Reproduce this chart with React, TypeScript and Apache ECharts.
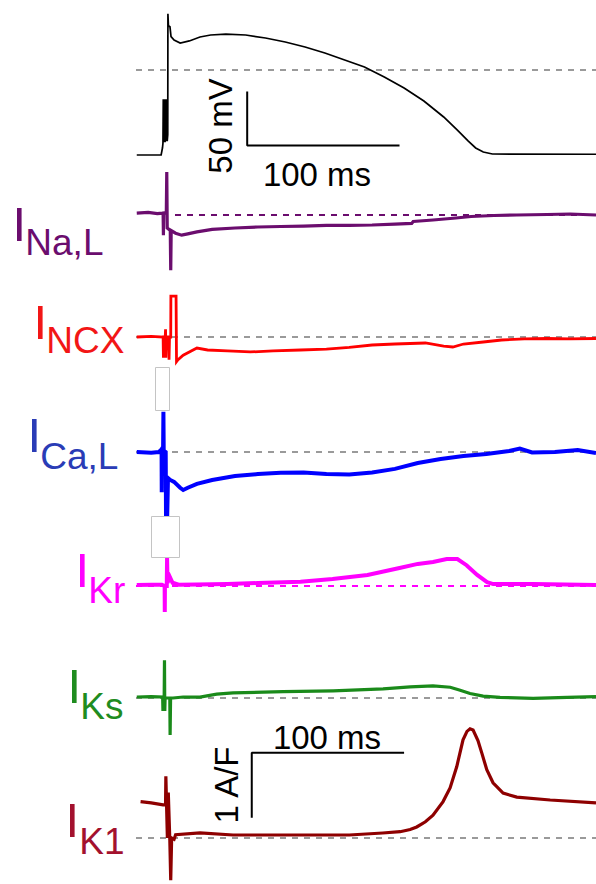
import React, { useEffect, useRef } from "react";
import * as echarts from "echarts";

// ---- time axis (ms, 0 = AP upstroke) ----
const T_MIN = -20;
const T_MAX = 282;

// ---- Action potential (mV) ----
const apTrace: [number, number][] = [
  [-19.5, -78.7], [-3.5, -78.7], [-2.6, -72], [-2.3, -67.6],
  [-2.1, -27], [-1.7, -67], [-1.3, -27], [-0.9, -67], [-0.5, -27], [-0.1, -66], [0.3, -27], [0.5, -66],
  [0.85, -60], [0.95, 52], [1.3, 41], [2.3, 40], [3.0, 31], [5, 27.8], [9, 25], [15, 26.9],
  [22, 30.6], [29, 32.4], [39, 33.3], [52, 32.4], [65, 29.6], [78, 25.9], [91, 21.3], [104, 15.7],
  [117, 9.3], [130, 2.8], [143, -6.5], [156, -16.7], [169, -28.7], [182, -43.5], [191, -55.6],
  [198, -65.7], [203, -72.2], [208, -75.9], [214, -77.8], [282, -78],
];

// ---- Currents (A/F) ----
const iNaLTrace: [number, number][] = [
  [-19.5, 0.03], [-12, 0.04], [-6, 0.02], [-2.2, 0.03], [-2.0, -0.31], [-1.8, 0.03], [-0.1, 0.03],
  [0.2, 0.66], [0.5, -0.2], [2.5, -0.24], [2.8, -0.85], [3.1, -0.24], [6, -0.28], [10, -0.31],
  [14, -0.29], [20, -0.26], [30, -0.22], [45, -0.2], [60, -0.185], [75, -0.177], [90, -0.17],
  [105, -0.16], [120, -0.16], [135, -0.154], [150, -0.14], [161, -0.13], [162, -0.1], [175, -0.077],
  [190, -0.046], [200, -0.023], [215, -0.008], [230, 0], [250, 0.008], [265, 0.015], [282, 0.0],
];

const iNCXTrace: [number, number][] = [
  [-19.5, 0], [-10, 0.01], [-2.2, 0], [-2.0, -0.32], [-1.8, 0], [-0.8, 0], [-0.6, 0.12], [-0.4, -0.32],
  [0, 0], [1.5, 0], [1.7, -0.35], [2.0, 0], [2.8, 0], [2.9, 0.63], [6.3, 0.63], [6.6, -0.38],
  [7.6, -0.35], [11, -0.28], [20, -0.17], [27, -0.2], [40, -0.215], [55, -0.23], [70, -0.215],
  [88, -0.2], [105, -0.185], [120, -0.16], [135, -0.123], [150, -0.108], [170, -0.092], [182, -0.14],
  [188, -0.154], [195, -0.108], [208, -0.077], [220, -0.046], [235, -0.03], [250, -0.023],
  [265, -0.03], [282, -0.023],
];

const iCaLTrace: [number, number][] = [
  [-19.5, 0], [-10, -0.01], [-5, 0.0], [-3.2, 0.04], [-3.1, -0.62], [-3.0, 0.05], [-2.2, 0.08],
  [-2.0, 0.62], [-1.8, 0.02], [-0.5, 0.0], [-0.3, -0.97], [0.5, -0.97], [1.0, -0.4], [2.5, -0.43],
  [5, -0.46], [9, -0.55], [11, -0.585], [14, -0.55], [20, -0.49], [30, -0.43], [45, -0.37],
  [60, -0.34], [75, -0.32], [90, -0.315], [105, -0.34], [120, -0.346], [135, -0.315], [150, -0.26],
  [165, -0.17], [180, -0.108], [195, -0.062], [210, -0.03], [225, 0.015], [232, 0.054], [240, -0.008],
  [255, 0], [270, 0.03], [282, -0.015],
];

const iKrTrace: [number, number][] = [
  [-19.5, 0.015], [-10, 0.02], [-3, 0.02], [-1.2, 0.0], [-1.1, -0.4], [-1.0, 0.0], [0.2, 0.0],
  [0.4, 0.43], [0.7, 0.05], [2.2, 0.14], [4, 0.05], [8, 0.02], [20, 0.023], [40, 0.03], [60, 0.046],
  [88, 0.066], [109, 0.108], [132, 0.17], [153, 0.277], [165, 0.34], [175, 0.37], [184, 0.415],
  [191, 0.415], [197, 0.32], [204, 0.17], [210.5, 0.06], [214.5, 0.03], [241, 0.03], [282, 0.015],
];

const iKsTrace: [number, number][] = [
  [-19.5, 0.015], [-10, 0.02], [-2.5, 0.015], [-2.3, -0.2], [-2.1, 0.015], [-1.5, 0.015],
  [-1.3, 0.58], [-1.1, -0.2], [-0.9, 0.0], [2.2, 0.0], [2.4, -0.57], [2.7, 0.0], [4.3, 0],
  [11, 0.015], [22, 0.015], [33, 0.06], [43.7, 0.08], [76.6, 0.097], [109.4, 0.11], [142.2, 0.14],
  [160, 0.17], [175, 0.185], [186.3, 0.165], [192.8, 0.12], [199.3, 0.07], [207.9, 0.03],
  [219, 0.01], [240.7, -0.005], [263, 0.01], [282, 0.02],
];

const iK1Trace: [number, number][] = [
  [-17, 0.56], [-10, 0.54], [-2.2, 0.51], [-0.6, 0.51], [-0.4, 0.95], [-0.2, 0.95], [0.6, 0.0],
  [1.2, 0.7], [2.2, -0.03], [2.8, -0.65], [3.4, 0.0], [5, -0.02], [6, 0.05], [22, 0.08],
  [43.7, 0.046], [55, 0.046], [87.7, 0.046], [120, 0.046], [142, 0.077], [153.4, 0.097],
  [160, 0.13], [164.3, 0.17], [170, 0.25], [175, 0.35], [181.6, 0.56], [186.2, 0.77], [190.6, 1.1],
  [194.7, 1.51], [197.3, 1.64], [199.3, 1.68], [201.3, 1.66], [204.5, 1.5], [207, 1.31],
  [210.3, 1.05], [214.4, 0.85], [221, 0.69], [230, 0.63], [251.9, 0.585], [282, 0.54],
];

// ---- scale bars ----
const apScaleBar: [number, number][] = [[53, -20], [53, -70], [153, -70]]; // 50 mV, 100 ms
const currentScaleBar: [number, number][] = [[56, 0.31], [56, 1.31], [156, 1.31]]; // 1 A/F, 100 ms

// ---- labels ----
const currentNames = ["Na,L", "NCX", "Ca,L", "Kr", "Ks", "K1"];

// ---- layout / style ----
const PLOT_LEFT = 136;
const PLOT_WIDTH = 460;
const FONT = "'Liberation Sans', Arial, Helvetica, sans-serif";
const GRAY = "#9a9a9a";

type Panel = {
  data: [number, number][];
  color: string;
  width: number;
  y0: number; // pixel row of zero
  pxPerUnit: number;
  yMin: number;
  yMax: number;
  dashColor: string;
  dashFrom: number;
};

const panels: Panel[] = [
  { data: apTrace, color: "#000000", width: 1.7, y0: 70, pxPerUnit: 1.08, yMin: -100, yMax: 64, dashColor: GRAY, dashFrom: T_MIN },
  { data: iNaLTrace, color: "#6b0d6e", width: 3.2, y0: 215, pxPerUnit: 65, yMin: -1.5, yMax: 1.5, dashColor: "#6b0d6e", dashFrom: 5.6 },
  { data: iNCXTrace, color: "#ff0000", width: 2.8, y0: 337, pxPerUnit: 65, yMin: -1.5, yMax: 1.5, dashColor: GRAY, dashFrom: T_MIN },
  { data: iCaLTrace, color: "#0000ff", width: 4, y0: 452, pxPerUnit: 65, yMin: -1.5, yMax: 1.5, dashColor: GRAY, dashFrom: T_MIN },
  { data: iKrTrace, color: "#ff00ff", width: 4, y0: 586, pxPerUnit: 65, yMin: -1.5, yMax: 1.5, dashColor: "#ff00ff", dashFrom: T_MIN },
  { data: iKsTrace, color: "#1a8a1a", width: 3.2, y0: 698, pxPerUnit: 65, yMin: -1.5, yMax: 1.5, dashColor: GRAY, dashFrom: T_MIN },
  { data: iK1Trace, color: "#8e0000", width: 3.2, y0: 838, pxPerUnit: 65, yMin: -0.7, yMax: 2, dashColor: GRAY, dashFrom: T_MIN },
];

const labelStyles = [
  { color: "#6b0d6e", ix: 12.5, iy: 223.5, sx: 25.3, sy: 242.5 },
  { color: "#f21616", ix: 33.5, iy: 321.5, sx: 46.3, sy: 340 },
  { color: "#2a3cb6", ix: 27.5, iy: 435, sx: 40.2, sy: 456.5 },
  { color: "#ff00ff", ix: 75.5, iy: 569.5, sx: 88.3, sy: 590 },
  { color: "#1f8c1f", ix: 67.5, iy: 686, sx: 80.3, sy: 706 },
  { color: "#a3112e", ix: 65.5, iy: 820, sx: 79.3, sy: 841.5 },
];

function buildOption() {
  const grid: any[] = [];
  const xAxis: any[] = [];
  const yAxis: any[] = [];
  const series: any[] = [];
  panels.forEach((p, i) => {
    const top = p.y0 - p.yMax * p.pxPerUnit;
    const height = (p.yMax - p.yMin) * p.pxPerUnit;
    grid.push({ left: PLOT_LEFT, width: PLOT_WIDTH, top, height, outerBoundsMode: "none" });
    xAxis.push({ gridIndex: i, type: "value", min: T_MIN, max: T_MAX, show: false });
    yAxis.push({ gridIndex: i, type: "value", min: p.yMin, max: p.yMax, show: false });
    series.push({
      type: "line",
      xAxisIndex: i,
      yAxisIndex: i,
      data: [[p.dashFrom, 0], [T_MAX, 0]],
      symbol: "none",
      silent: true,
      clip: false,
      z: 2,
      lineStyle: { color: p.dashColor, width: 2, type: [6, 6] },
    });
    series.push({
      type: "line",
      xAxisIndex: i,
      yAxisIndex: i,
      data: p.data,
      symbol: "none",
      silent: true,
      clip: false,
      z: 3,
      lineStyle: { color: p.color, width: p.width, join: "miter" },
    });
  });
  series.push({
    type: "line", xAxisIndex: 0, yAxisIndex: 0, data: apScaleBar, symbol: "none", silent: true, clip: false, z: 4,
    lineStyle: { color: "#000", width: 2 },
  });
  series.push({
    type: "line", xAxisIndex: 6, yAxisIndex: 6, data: currentScaleBar, symbol: "none", silent: true, clip: false, z: 4,
    lineStyle: { color: "#000", width: 2 },
  });

  const graphic: any[] = [];
  currentNames.forEach((name, i) => {
    const s = labelStyles[i];
    graphic.push({
      type: "text", x: s.ix, y: s.iy, z: 10,
      style: { text: "I", fill: s.color, font: `49px ${FONT}`, align: "left", verticalAlign: "middle" },
    });
    graphic.push({
      type: "text", x: s.sx, y: s.sy, z: 10,
      style: { text: name, fill: s.color, font: `37px ${FONT}`, align: "left", verticalAlign: "middle" },
    });
  });
  const scaleText = (text: string, x: number, y: number, rot: number) => ({
    type: "text", x, y, rotation: rot, z: 10,
    style: { text, fill: "#000", font: `33px ${FONT}`, align: "center", verticalAlign: "middle" },
  });
  graphic.push(scaleText("50 mV", 220, 126, Math.PI / 2));
  graphic.push(scaleText("100 ms", 317, 174, 0));
  graphic.push(scaleText("100 ms", 327, 737, 0));
  graphic.push(scaleText("1 A/F", 226, 785, Math.PI / 2));
  graphic.push({
    type: "rect", z: 20, shape: { x: 155.5, y: 367.5, width: 14, height: 43 },
    style: { fill: "#fff", stroke: "#c4c4c4", lineWidth: 1 },
  });
  graphic.push({
    type: "rect", z: 20, shape: { x: 151.5, y: 516.5, width: 28, height: 41 },
    style: { fill: "#fff", stroke: "#c4c4c4", lineWidth: 1 },
  });

  return {
    animation: false,
    backgroundColor: "#ffffff",
    grid,
    xAxis,
    yAxis,
    series,
    graphic,
  };
}

export default function App() {
  const ref = useRef<HTMLDivElement>(null);
  useEffect(() => {
    if (!ref.current) return;
    const chart = echarts.init(ref.current, undefined, { renderer: "svg" });
    chart.setOption(buildOption());
    return () => chart.dispose();
  }, []);
  return (
    <div
      ref={ref}
      style={{ position: "fixed", left: 0, top: 0, width: 596, height: 884, background: "#fff" }}
    />
  );
}
